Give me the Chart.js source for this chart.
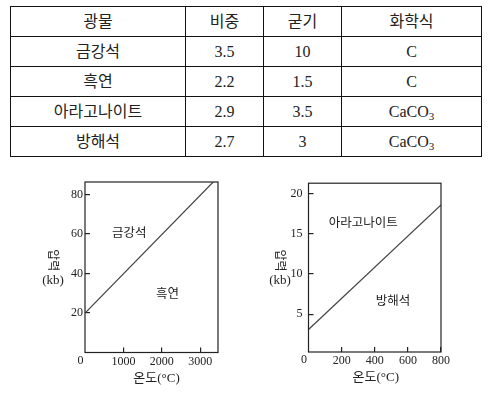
<!DOCTYPE html>
<html lang="ko">
<head>
<meta charset="utf-8">
<script src="https://cdn.jsdelivr.net/npm/chart.js@4.4.1/dist/chart.umd.min.js"></script>
<style>
  html, body { margin: 0; padding: 0; background: #fff; }
  body {
    width: 489px; height: 393px; position: relative; overflow: hidden;
    font-family: "Liberation Serif", "Noto Sans CJK KR", serif; color: #222;
  }
  #minerals {
    position: absolute; left: 10px; top: 6px; width: 471px;
    border-collapse: collapse; table-layout: fixed; font-size: 16px;
  }
  #minerals td {
    border: 1px solid #111; height: 29px; padding: 0;
    text-align: center; vertical-align: middle; line-height: 18px;
  }
  #minerals sub { font-size: 11px; vertical-align: -3px; line-height: 0; }
  .chart-box { position: absolute; top: 165px; height: 228px; }
</style>
</head>
<body>
<table id="minerals">
  <colgroup><col style="width:175px"><col style="width:78px"><col style="width:78px"><col style="width:140px"></colgroup>
  <tbody></tbody>
</table>
<div class="chart-box" style="left:0; width:245px;"><canvas id="carbonChart"></canvas></div>
<div class="chart-box" style="left:245px; width:244px;"><canvas id="calciteChart"></canvas></div>
<script>
/* Table data. */
const table_head = ["광물", "비중", "굳기", "화학식"];
const mineral_names = ["금강석", "흑연", "아라고나이트", "방해석"];
const specific_gravity = ["3.5", "2.2", "2.9", "2.7"];
const hardness = ["10", "1.5", "3.5", "3"];
const formulas = ["C", "C", "CaCO3", "CaCO3"];

/* Diamond / graphite phase boundary. */
const carbon_temp = [0, 3340];
const carbon_pressure = [20, 86.3];
const carbon_x_ticks = [1000, 2000, 3000];
const carbon_y_ticks = [20, 40, 60, 80];
const carbon_regions = ["금강석", "흑연"];
const carbon_region_temp = [1150, 2150];
const carbon_region_pressure = [61, 30];

/* Aragonite / calcite phase boundary. */
const calcite_temp = [0, 800];
const calcite_pressure = [3.1, 18.6];
const calcite_x_ticks = [200, 400, 600, 800];
const calcite_y_ticks = [5, 10, 15, 20];
const calcite_regions = ["아라고나이트", "방해석"];
const calcite_region_temp = [330, 510];
const calcite_region_pressure = [16.4, 6.7];

const SERIF = "'Liberation Serif', 'Noto Sans CJK KR', serif";
const SANS = "'Noto Sans CJK KR', sans-serif";

function build_table() {
  const body = document.querySelector("#minerals tbody");
  /* chemical formulas get their trailing digit as a subscript */
  const chem = (s) => s.replace(/(\d)$/, "<sub>$1</sub>");
  let rows = [table_head];
  for (let i = 0; i < mineral_names.length; i++) {
    rows.push([mineral_names[i], specific_gravity[i], hardness[i], chem(formulas[i])]);
  }
  body.innerHTML = rows
    .map((r) => "<tr>" + r.map((c) => "<td>" + c + "</td>").join("") + "</tr>")
    .join("");
}

/* Box round the plot, axis titles, origin zero and region names. */
const frame_plugin = {
  id: "frame",
  afterDraw(chart, args, opts) {
    const { ctx, chartArea: a, scales } = chart;
    const mid_y = (a.top + a.bottom) / 2;
    ctx.save();
    ctx.strokeStyle = "#222";
    ctx.lineWidth = 1.2;
    ctx.strokeRect(a.left, a.top, a.right - a.left, a.bottom - a.top);

    ctx.fillStyle = "#222";
    ctx.textAlign = "center";
    ctx.textBaseline = "middle";

    // region names sit at data coordinates
    ctx.font = "12.5px " + SANS;
    opts.regions.forEach((name, i) => {
      ctx.fillText(name, scales.x.getPixelForValue(opts.region_x[i]),
        scales.y.getPixelForValue(opts.region_y[i]));
    });

    // origin zero
    ctx.font = "12px " + SERIF;
    ctx.fillText("0", a.left - 4.5, a.bottom + 8);

    // x title
    ctx.font = "13px " + SERIF;
    ctx.fillText("온도(°C)", (a.left + a.right) / 2 + opts.x_title_dx, a.bottom + 26);

    // y title: 압력 turned on its side, (kb) upright below
    ctx.save();
    ctx.translate(a.left + opts.y_title_dx, mid_y - 7);
    ctx.rotate(Math.PI / 2);
    ctx.font = "12px " + SANS;
    ctx.fillText("압력", 0, 0);
    ctx.restore();
    ctx.font = "13px " + SERIF;
    ctx.fillText("(kb)", a.left + opts.y_title_dx - 1, mid_y + 13);
    ctx.restore();
  },
};

function make_axis(min, max, tick_list, extra) {
  return Object.assign({
    type: "linear",
    min: min,
    max: max,
    afterBuildTicks: (s) => { s.ticks = tick_list.map((v) => ({ value: v })); },
    border: { display: false },
    grid: { drawOnChartArea: false, color: "#222", lineWidth: 1.2, tickLength: -5 },
  }, extra);
}

function make_chart(id, cfg) {
  const points = cfg.xs.map((x, i) => ({ x: x, y: cfg.ys[i] }));
  const tick_font = { family: SERIF, size: 12 };
  const plain = (v) => String(v);
  return new Chart(document.getElementById(id), {
    type: "scatter",
    data: {
      datasets: [{
        data: points,
        showLine: true,
        borderColor: "#444",
        borderWidth: 1.2,
        pointRadius: 0,
      }],
    },
    options: {
      responsive: true,
      maintainAspectRatio: false,
      animation: false,
      layout: { padding: cfg.padding },
      scales: {
        x: make_axis(cfg.x_min, cfg.x_max, cfg.x_ticks, {
          afterFit: (s) => { s.height = cfg.x_height; },
          ticks: { color: "#222", font: tick_font, padding: 7, maxRotation: 0, callback: plain },
        }),
        y: make_axis(cfg.y_min, cfg.y_max, cfg.y_ticks, {
          afterFit: (s) => { s.width = cfg.y_width; },
          ticks: { color: "#222", font: tick_font, padding: cfg.y_pad, callback: plain },
        }),
      },
      plugins: {
        legend: { display: false },
        tooltip: { enabled: false },
        frame: {
          regions: cfg.regions,
          region_x: cfg.region_x,
          region_y: cfg.region_y,
          x_title_dx: cfg.x_title_dx,
          y_title_dx: cfg.y_title_dx,
        },
      },
    },
    plugins: [frame_plugin],
  });
}

build_table();

make_chart("carbonChart", {
  xs: carbon_temp, ys: carbon_pressure,
  x_min: 0, x_max: 3465, y_min: 0, y_max: 86.3,
  x_ticks: carbon_x_ticks, y_ticks: carbon_y_ticks,
  regions: carbon_regions, region_x: carbon_region_temp, region_y: carbon_region_pressure,
  padding: { left: 0, top: 17, right: 27, bottom: 0 },
  x_height: 40.5, y_width: 85, y_pad: 7,
  x_title_dx: 5, y_title_dx: -31,
});

make_chart("calciteChart", {
  xs: calcite_temp, ys: calcite_pressure,
  x_min: 0, x_max: 800, y_min: 0.3, y_max: 21.3,
  x_ticks: calcite_x_ticks, y_ticks: calcite_y_ticks,
  regions: calcite_regions, region_x: calcite_region_temp, region_y: calcite_region_pressure,
  padding: { left: 0, top: 17.5, right: 48, bottom: 0 },
  x_height: 41, y_width: 63.5, y_pad: 11,
  x_title_dx: 1, y_title_dx: -27.5,
});
</script>
</body>
</html>
